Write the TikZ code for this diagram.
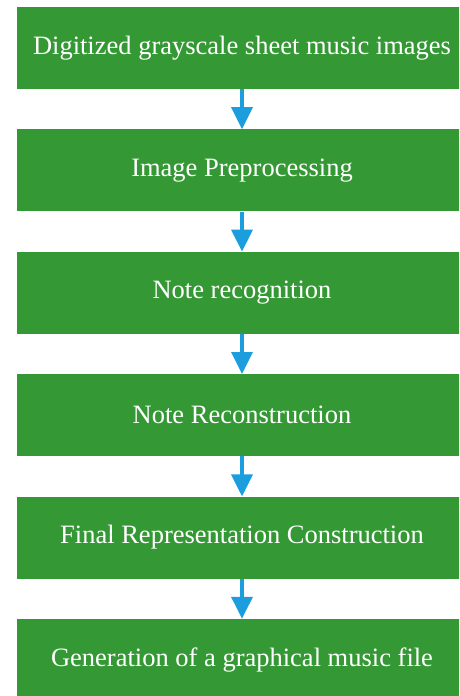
\documentclass[tikz,border=0pt]{standalone}
\usepackage{fontspec}
\setmainfont{Liberation Serif}
\usepackage{xcolor}
\usepackage{tikz}
\usetikzlibrary{arrows.meta, positioning}
\definecolor{stagegreen}{RGB}{52,153,52}
\definecolor{flowblue}{RGB}{27,157,222}
\tikzset{
  stagebox/.style={rectangle, fill=stagegreen, text=white, inner sep=0pt,
                   minimum width=451pt, minimum height=82pt,
                   font=\fontsize{26.5}{30}\selectfont},
  flowarrow/.style={-{Triangle[length=22pt, width=21pt]}, draw=flowblue,
                    line width=3.5pt},
}

\begin{document}
\begin{tikzpicture}[node distance=40pt]
  \useasboundingbox (0,0) rectangle (459pt,-696pt);
  \clip (0,0) rectangle (459pt,-696pt);

  % Processing stages
  \node[stagebox] (input) at (242pt,-48pt) {Digitized grayscale sheet music images};
  \node[stagebox, below=of input] (prep) {Image Preprocessing};
  \node[stagebox, below=of prep] (recog) {Note recognition};
  \node[stagebox, below=of recog] (recon) {Note Reconstruction};
  \node[stagebox, below=of recon] (final) {Final Representation Construction};
  \node[stagebox, below=of final] (output) {Generation of a graphical music file};

  % Connections
  \draw[flowarrow] (input.south) -- (prep.north);
  \draw[flowarrow] (prep.south) -- (recog.north);
  \draw[flowarrow] (recog.south) -- (recon.north);
  \draw[flowarrow] (recon.south) -- (final.north);
  \draw[flowarrow] (final.south) -- (output.north);

\end{tikzpicture}
\end{document}
